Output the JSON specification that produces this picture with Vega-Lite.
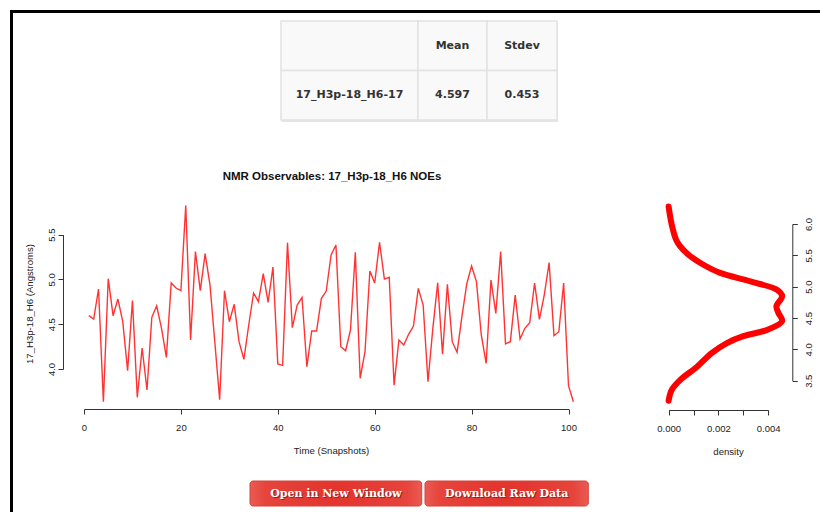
{
  "$schema": "https://vega.github.io/schema/vega-lite/v6.json",
  "width": 820,
  "height": 512,
  "autosize": "none",
  "padding": 0,
  "background": "white",
  "title": {
    "text": "NMR Observables: 17_H3p-18_H6 NOEs",
    "anchor": "middle",
    "frame": "group",
    "orient": "top",
    "offset": 0,
    "baseline": "alphabetic",
    "dx": -78,
    "dy": 191,
    "font": "Liberation Sans",
    "fontSize": 11.5,
    "fontWeight": "bold",
    "color": "#111"
  },
  "config": {
    "view": {"stroke": null},
    "axis": {
      "grid": false,
      "labelFlush": false,
      "labelOverlap": false,
      "labelFont": "Liberation Sans",
      "labelFontSize": 9.5,
      "labelColor": "#222",
      "domainColor": "#333",
      "tickColor": "#333",
      "tickSize": 5,
      "titleFont": "Liberation Sans",
      "titleFontSize": 9.6,
      "titleFontWeight": "normal",
      "titleColor": "#222"
    }
  },
  "datasets": {
    "noe": [
      {"t": 1, "dist": 4.595}, {"t": 2, "dist": 4.558}, {"t": 3, "dist": 4.893}, {"t": 4, "dist": 3.635},
      {"t": 5, "dist": 5.008}, {"t": 6, "dist": 4.595}, {"t": 7, "dist": 4.781}, {"t": 8, "dist": 4.528},
      {"t": 9, "dist": 3.98}, {"t": 10, "dist": 4.763}, {"t": 11, "dist": 3.684}, {"t": 12, "dist": 4.234},
      {"t": 13, "dist": 3.766}, {"t": 14, "dist": 4.577}, {"t": 15, "dist": 4.706}, {"t": 16, "dist": 4.454},
      {"t": 17, "dist": 4.13}, {"t": 18, "dist": 4.96}, {"t": 19, "dist": 4.904}, {"t": 20, "dist": 4.874},
      {"t": 21, "dist": 5.825}, {"t": 22, "dist": 4.324}, {"t": 23, "dist": 5.31}, {"t": 24, "dist": 4.874},
      {"t": 25, "dist": 5.287}, {"t": 26, "dist": 4.94}, {"t": 27, "dist": 4.3}, {"t": 28, "dist": 3.657},
      {"t": 29, "dist": 4.874}, {"t": 30, "dist": 4.528}, {"t": 31, "dist": 4.722}, {"t": 32, "dist": 4.305},
      {"t": 33, "dist": 4.108}, {"t": 34, "dist": 4.491}, {"t": 35, "dist": 4.848}, {"t": 36, "dist": 4.751},
      {"t": 37, "dist": 5.064}, {"t": 38, "dist": 4.744}, {"t": 39, "dist": 5.138}, {"t": 40, "dist": 4.056},
      {"t": 41, "dist": 4.04}, {"t": 42, "dist": 5.41}, {"t": 43, "dist": 4.461}, {"t": 44, "dist": 4.714},
      {"t": 45, "dist": 4.8}, {"t": 46, "dist": 4.026}, {"t": 47, "dist": 4.424}, {"t": 48, "dist": 4.424},
      {"t": 49, "dist": 4.789}, {"t": 50, "dist": 4.87}, {"t": 51, "dist": 5.272}, {"t": 52, "dist": 5.384},
      {"t": 53, "dist": 4.249}, {"t": 54, "dist": 4.205}, {"t": 55, "dist": 4.435}, {"t": 56, "dist": 5.302},
      {"t": 57, "dist": 3.896}, {"t": 58, "dist": 4.193}, {"t": 59, "dist": 5.094}, {"t": 60, "dist": 4.96},
      {"t": 61, "dist": 5.414}, {"t": 62, "dist": 5.004}, {"t": 63, "dist": 5.023}, {"t": 64, "dist": 3.82},
      {"t": 65, "dist": 4.324}, {"t": 66, "dist": 4.268}, {"t": 67, "dist": 4.387}, {"t": 68, "dist": 4.48},
      {"t": 69, "dist": 4.9}, {"t": 70, "dist": 4.714}, {"t": 71, "dist": 3.858}, {"t": 72, "dist": 4.454},
      {"t": 73, "dist": 4.963}, {"t": 74, "dist": 4.164}, {"t": 75, "dist": 4.945}, {"t": 76, "dist": 4.305},
      {"t": 77, "dist": 4.186}, {"t": 78, "dist": 4.584}, {"t": 79, "dist": 4.95}, {"t": 80, "dist": 5.15},
      {"t": 81, "dist": 4.975}, {"t": 82, "dist": 4.38}, {"t": 83, "dist": 4.063}, {"t": 84, "dist": 4.993},
      {"t": 85, "dist": 4.62}, {"t": 86, "dist": 5.31}, {"t": 87, "dist": 4.279}, {"t": 88, "dist": 4.305},
      {"t": 89, "dist": 4.826}, {"t": 90, "dist": 4.335}, {"t": 91, "dist": 4.454}, {"t": 92, "dist": 4.517},
      {"t": 93, "dist": 4.96}, {"t": 94, "dist": 4.554}, {"t": 95, "dist": 4.826}, {"t": 96, "dist": 5.187},
      {"t": 97, "dist": 4.372}, {"t": 98, "dist": 4.416}, {"t": 99, "dist": 4.96}, {"t": 100, "dist": 3.814},
      {"t": 101, "dist": 3.635}
    ],
    "density": [
      {"value": 3.18, "density": 0.0},
      {"value": 3.35, "density": 0.00012},
      {"value": 3.51, "density": 0.00046},
      {"value": 3.72, "density": 0.00113},
      {"value": 3.94, "density": 0.00173},
      {"value": 4.10, "density": 0.00234},
      {"value": 4.21, "density": 0.0030},
      {"value": 4.31, "density": 0.00395},
      {"value": 4.45, "density": 0.00456},
      {"value": 4.59, "density": 0.0044},
      {"value": 4.69, "density": 0.00433},
      {"value": 4.85, "density": 0.00456},
      {"value": 4.95, "density": 0.00435},
      {"value": 5.085, "density": 0.00328},
      {"value": 5.22, "density": 0.00207},
      {"value": 5.35, "density": 0.0014},
      {"value": 5.49, "density": 0.00086},
      {"value": 5.65, "density": 0.00045},
      {"value": 5.75, "density": 0.0003},
      {"value": 6.0, "density": 0.00012},
      {"value": 6.28, "density": 0.0}
    ],
    "cells": [
      {"col": "name", "row": "header", "text": ""},
      {"col": "Mean", "row": "header", "text": "Mean"},
      {"col": "Stdev", "row": "header", "text": "Stdev"},
      {"col": "name", "row": "body", "text": "17_H3p-18_H6-17"},
      {"col": "Mean", "row": "body", "text": "4.597"},
      {"col": "Stdev", "row": "body", "text": "0.453"}
    ],
    "buttons": [
      {"group": "actions", "label": "Open in New Window"},
      {"group": "actions", "label": "Download Raw Data"}
    ]
  },
  "layer": [
    {
      "description": "page frame: the black top and left borders of the panel",
      "data": {"values": [{"u": 0}]},
      "mark": {"type": "point", "opacity": 0},
      "encoding": {
        "x": {"field": "u", "type": "quantitative",
          "scale": {"domain": [0, 1], "range": [10, 830]},
          "axis": {"orient": "top", "offset": -11.5, "translate": 0, "domainWidth": 3, "domainColor": "#000",
            "ticks": false, "labels": false, "title": null}},
        "y": {"field": "u", "type": "quantitative",
          "scale": {"domain": [0, 1], "range": [530, 10]},
          "axis": {"orient": "left", "offset": -11.5, "translate": 0, "domainWidth": 3, "domainColor": "#000",
            "ticks": false, "labels": false, "title": null}}
      }
    },
    {
      "description": "summary table, one sub-layer per column so each column keeps its own width",
      "data": {"name": "cells"},
      "resolve": {"scale": {"x": "independent"}},
      "layer": [
        {
          "transform": [{"filter": "datum.col === 'name'"}],
          "layer": [
            {"mark": {"type": "rect", "fill": "#000", "opacity": 0.1}, "encoding": {"xOffset": {"value": 1}, "yOffset": {"value": 2}}},
            {"mark": {"type": "rect", "fill": "#f9f9f9", "stroke": "#e2e2e2", "strokeWidth": 1.5}},
            {"mark": {"type": "text", "font": "DejaVu Sans", "fontSize": 11, "fontWeight": "bold", "color": "#333"},
              "encoding": {"text": {"field": "text"}}}
          ],
          "encoding": {
            "x": {"field": "col", "type": "nominal", "scale": {"domain": ["name"], "range": [281, 418], "paddingInner": 0, "paddingOuter": 0}, "axis": null},
            "y": {"field": "row", "type": "nominal", "scale": {"domain": ["header", "body"], "range": [21, 120], "paddingInner": 0, "paddingOuter": 0}, "axis": null}
          }
        },
        {
          "transform": [{"filter": "datum.col === 'Mean'"}],
          "layer": [
            {"mark": {"type": "rect", "fill": "#000", "opacity": 0.1}, "encoding": {"xOffset": {"value": 1}, "yOffset": {"value": 2}}},
            {"mark": {"type": "rect", "fill": "#f9f9f9", "stroke": "#e2e2e2", "strokeWidth": 1.5}},
            {"mark": {"type": "text", "font": "DejaVu Sans", "fontSize": 11, "fontWeight": "bold", "color": "#333"},
              "encoding": {"text": {"field": "text"}}}
          ],
          "encoding": {
            "x": {"field": "col", "type": "nominal", "scale": {"domain": ["Mean"], "range": [418, 487], "paddingInner": 0, "paddingOuter": 0}, "axis": null},
            "y": {"field": "row", "type": "nominal", "scale": {"domain": ["header", "body"], "range": [21, 120], "paddingInner": 0, "paddingOuter": 0}, "axis": null}
          }
        },
        {
          "transform": [{"filter": "datum.col === 'Stdev'"}],
          "layer": [
            {"mark": {"type": "rect", "fill": "#000", "opacity": 0.1}, "encoding": {"xOffset": {"value": 1}, "yOffset": {"value": 2}}},
            {"mark": {"type": "rect", "fill": "#f9f9f9", "stroke": "#e2e2e2", "strokeWidth": 1.5}},
            {"mark": {"type": "text", "font": "DejaVu Sans", "fontSize": 11, "fontWeight": "bold", "color": "#333"},
              "encoding": {"text": {"field": "text"}}}
          ],
          "encoding": {
            "x": {"field": "col", "type": "nominal", "scale": {"domain": ["Stdev"], "range": [487, 557], "paddingInner": 0, "paddingOuter": 0}, "axis": null},
            "y": {"field": "row", "type": "nominal", "scale": {"domain": ["header", "body"], "range": [21, 120], "paddingInner": 0, "paddingOuter": 0}, "axis": null}
          }
        }
      ]
    },
    {
      "description": "distance time series",
      "data": {"name": "noe"},
      "mark": {"type": "line", "color": "#ff0000", "strokeWidth": 1.4, "opacity": 0.8},
      "encoding": {
        "x": {"field": "t", "type": "quantitative",
          "scale": {"domain": [0, 100], "range": [84, 568.5], "zero": false, "nice": false},
          "axis": {"orient": "bottom", "offset": -103, "values": [0, 20, 40, 60, 80, 100],
            "labelPadding": 8, "title": "Time (Snapshots)", "titlePadding": 14, "titleX": 331}},
        "y": {"field": "dist", "type": "quantitative",
          "scale": {"domain": [4.0, 5.5], "range": [369, 234.6], "zero": false, "nice": false},
          "axis": {"orient": "left", "offset": -63, "values": [4.0, 4.5, 5.0, 5.5], "format": ".1f",
            "labelAngle": -90, "labelPadding": 2, "title": "17_H3p-18_H6 (Angstroms)", "titlePadding": 12, "titleY": 303.5}}
      }
    },
    {
      "description": "kernel density of the distance, drawn sideways",
      "data": {"name": "density"},
      "mark": {"type": "line", "color": "#ff0000", "strokeWidth": 6, "strokeCap": "round", "strokeJoin": "round", "interpolate": "catmull-rom"},
      "encoding": {
        "x": {"field": "density", "type": "quantitative",
          "scale": {"domain": [0, 0.004], "range": [668.6, 768.2], "zero": false, "nice": false},
          "axis": {"orient": "bottom", "offset": -102, "values": [0, 0.001, 0.002, 0.003, 0.004],
            "labelExpr": "round(datum.value * 1000) % 2 == 0 ? format(datum.value, '.3f') : ''",
            "labelPadding": 8, "title": "density", "titlePadding": 14, "titleX": 728}},
        "y": {"field": "value", "type": "quantitative",
          "scale": {"domain": [3.5, 6.0], "range": [380.7, 224], "zero": false, "nice": false},
          "axis": {"orient": "right", "offset": -27.7, "values": [3.5, 4.0, 4.5, 5.0, 5.5, 6.0], "format": ".1f",
            "labelAngle": -90, "labelPadding": 6, "title": null}},
        "order": {"field": "value", "type": "quantitative"}
      }
    },
    {
      "description": "action buttons, one sub-layer per button",
      "data": {"name": "buttons"},
      "resolve": {"scale": {"x": "independent"}},
      "layer": [
        {
          "transform": [{"filter": "datum.label === 'Open in New Window'"}],
          "encoding": {
            "x": {"field": "label", "type": "nominal",
              "scale": {"domain": ["Open in New Window"], "range": [250, 421.7], "paddingInner": 0, "paddingOuter": 0}, "axis": null},
            "y": {"field": "group", "type": "nominal",
              "scale": {"domain": ["actions"], "range": [481, 506], "paddingInner": 0, "paddingOuter": 0}, "axis": null}
          },
          "layer": [
            {"mark": {"type": "rect", "cornerRadius": 3, "stroke": "#d0453c", "strokeWidth": 1,
              "fill": {"gradient": "radial", "x1": 0.5, "y1": 0.5, "r1": 0, "x2": 0.5, "y2": 0.5, "r2": 0.75,
                "stops": [{"offset": 0, "color": "#e2332c"}, {"offset": 0.55, "color": "#e6443c"}, {"offset": 1, "color": "#f59a92"}]}}},
            {"mark": {"type": "text", "font": "DejaVu Serif", "fontSize": 11, "fontWeight": "bold", "color": "#7a1410", "opacity": 0.7, "dx": 1, "dy": 1},
              "encoding": {"text": {"field": "label"}}},
            {"mark": {"type": "text", "font": "DejaVu Serif", "fontSize": 11, "fontWeight": "bold", "color": "#ffffff"},
              "encoding": {"text": {"field": "label"}}}
          ]
        },
        {
          "transform": [{"filter": "datum.label === 'Download Raw Data'"}],
          "encoding": {
            "x": {"field": "label", "type": "nominal",
              "scale": {"domain": ["Download Raw Data"], "range": [425, 588.3], "paddingInner": 0, "paddingOuter": 0}, "axis": null},
            "y": {"field": "group", "type": "nominal",
              "scale": {"domain": ["actions"], "range": [481, 506], "paddingInner": 0, "paddingOuter": 0}, "axis": null}
          },
          "layer": [
            {"mark": {"type": "rect", "cornerRadius": 3, "stroke": "#d0453c", "strokeWidth": 1,
              "fill": {"gradient": "radial", "x1": 0.5, "y1": 0.5, "r1": 0, "x2": 0.5, "y2": 0.5, "r2": 0.75,
                "stops": [{"offset": 0, "color": "#e2332c"}, {"offset": 0.55, "color": "#e6443c"}, {"offset": 1, "color": "#f59a92"}]}}},
            {"mark": {"type": "text", "font": "DejaVu Serif", "fontSize": 11, "fontWeight": "bold", "color": "#7a1410", "opacity": 0.7, "dx": 1, "dy": 1},
              "encoding": {"text": {"field": "label"}}},
            {"mark": {"type": "text", "font": "DejaVu Serif", "fontSize": 11, "fontWeight": "bold", "color": "#ffffff"},
              "encoding": {"text": {"field": "label"}}}
          ]
        }
      ]
    }
  ],
  "resolve": {"scale": {"x": "independent", "y": "independent"}}
}
